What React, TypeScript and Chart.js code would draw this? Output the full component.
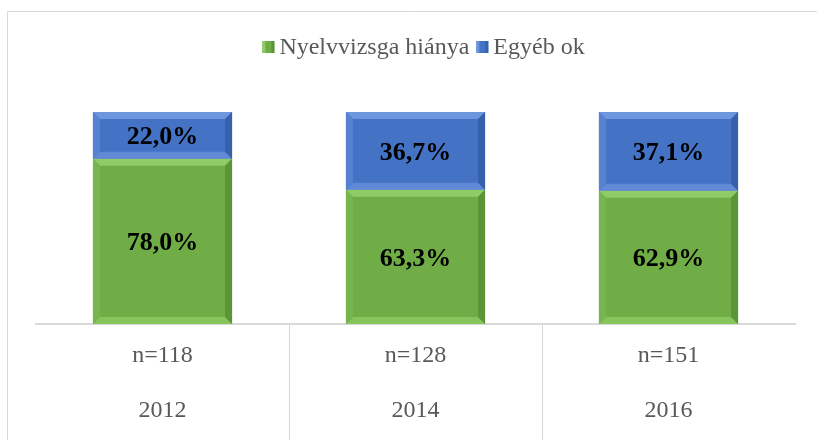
import React, { useEffect, useRef } from "react";
import { Chart, registerables } from "chart.js";

Chart.register(...registerables);

const years = ["2012", "2014", "2016"];
const sampleSizes = ["n=118", "n=128", "n=151"];
const nyelvvizsga = [78.0, 63.3, 62.9];
const egyeb = [22.0, 36.7, 37.1];
const seriesNames = ["Nyelvvizsga hiánya", "Egyéb ok"];

const GREEN = { main: "#70AD47", top: "#8FCC66", bottom: "#86C45C", left: "#78B54F", right: "#5C9438" };
const BLUE = { main: "#4472C4", top: "#6E96DE", bottom: "#6189D6", left: "#5682D2", right: "#3760AC" };

const FONT = "'Liberation Serif', 'Times New Roman', serif";

const bevelPlugin = {
  id: "bevel",
  afterDatasetsDraw(chart: any) {
    const ctx = chart.ctx;
    chart.data.datasets.forEach((ds: any, di: number) => {
      const pal = di === 0 ? GREEN : BLUE;
      const meta = chart.getDatasetMeta(di);
      meta.data.forEach((el: any) => {
        const p = el.getProps(["x", "y", "base", "width"], true);
        const l = p.x - p.width / 2;
        const r = p.x + p.width / 2;
        const t = Math.min(p.y, p.base);
        const b = Math.max(p.y, p.base);
        const s = Math.min(7, (b - t) / 2);
        ctx.save();
        const poly = (pts: number[][], c: string) => {
          ctx.beginPath();
          ctx.moveTo(pts[0][0], pts[0][1]);
          for (let i = 1; i < pts.length; i++) ctx.lineTo(pts[i][0], pts[i][1]);
          ctx.closePath();
          ctx.fillStyle = c;
          ctx.fill();
        };
        poly([[l, t], [r, t], [r - s, t + s], [l + s, t + s]], pal.top);
        poly([[l, b], [r, b], [r - s, b - s], [l + s, b - s]], pal.bottom);
        poly([[l, t], [l + s, t + s], [l + s, b - s], [l, b]], pal.left);
        poly([[r, t], [r - s, t + s], [r - s, b - s], [r, b]], pal.right);
        ctx.restore();
      });
    });
  },
};

const labelPlugin = {
  id: "valueLabels",
  afterDatasetsDraw(chart: any) {
    const ctx = chart.ctx;
    ctx.save();
    ctx.font = `bold 26px ${FONT}`;
    ctx.fillStyle = "#000000";
    ctx.textAlign = "center";
    ctx.textBaseline = "middle";
    chart.data.datasets.forEach((ds: any, di: number) => {
      const meta = chart.getDatasetMeta(di);
      meta.data.forEach((el: any, i: number) => {
        const c = el.getCenterPoint();
        const v = ds.data[i];
        ctx.fillText(v.toFixed(1).replace(".", ",") + "%", c.x, c.y + 2);
      });
    });
    ctx.restore();
  },
};

const legendPlugin = {
  id: "customLegend",
  afterDraw(chart: any) {
    const ctx = chart.ctx;
    ctx.save();
    ctx.font = `24px ${FONT}`;
    const box = 12;
    const gapBox = 5;
    const gapItem = 7;
    const widths = seriesNames.map((n) => ctx.measureText(n).width);
    const total = widths.reduce((a, w) => a + box + gapBox + w, 0) + gapItem * (seriesNames.length - 1);
    const ca = chart.chartArea;
    let x = (ca.left + ca.right) / 2 + 8 - total / 2;
    const yc = 47;
    seriesNames.forEach((n, i) => {
      const pal = i === 0 ? GREEN : BLUE;
      ctx.fillStyle = pal.main;
      ctx.fillRect(x, yc - box / 2, box, box);
      ctx.fillStyle = pal.right;
      ctx.fillRect(x + box - 3, yc - box / 2, 3, box);
      ctx.fillStyle = pal.top;
      ctx.fillRect(x, yc - box / 2, 3, box);
      x += box + gapBox;
      ctx.fillStyle = "#595959";
      ctx.textAlign = "left";
      ctx.textBaseline = "middle";
      ctx.fillText(n, x, yc + 1);
      x += widths[i] + gapItem;
    });
    ctx.restore();
  },
};

const framePlugin = {
  id: "frame",
  beforeDraw(chart: any) {
    const ctx = chart.ctx;
    ctx.save();
    ctx.fillStyle = "#ffffff";
    ctx.fillRect(0, 0, chart.width, chart.height);
    ctx.strokeStyle = "#D9D9D9";
    ctx.lineWidth = 1;
    ctx.beginPath();
    ctx.moveTo(7.5, chart.height);
    ctx.lineTo(7.5, 11.5);
    ctx.lineTo(chart.width, 11.5);
    ctx.stroke();
    ctx.restore();
  },
  afterDraw(chart: any) {
    const ctx = chart.ctx;
    const xs = chart.scales.x;
    ctx.save();
    ctx.strokeStyle = "#D9D9D9";
    ctx.lineWidth = 1;
    for (let i = 1; i < years.length; i++) {
      const x = Math.round((xs.getPixelForValue(i - 1) + xs.getPixelForValue(i)) / 2) + 0.5;
      ctx.beginPath();
      ctx.moveTo(x, xs.top);
      ctx.lineTo(x, chart.height);
      ctx.stroke();
    }
    ctx.restore();
  },
};

export default function App() {
  const ref = useRef<HTMLCanvasElement>(null);
  useEffect(() => {
    if (!ref.current) return;
    const chart = new Chart(ref.current, {
      type: "bar",
      data: {
        labels: years.map((y, i) => [sampleSizes[i], y]),
        datasets: [
          { label: seriesNames[0], data: nyelvvizsga, backgroundColor: GREEN.main, borderWidth: 0 },
          { label: seriesNames[1], data: egyeb, backgroundColor: BLUE.main, borderWidth: 0 },
        ],
      },
      options: {
        animation: false,
        responsive: false,
        maintainAspectRatio: false,
        layout: { padding: { left: 36, right: 22, top: 112, bottom: 0 } },
        datasets: { bar: { barPercentage: 1, categoryPercentage: 0.55 } },
        plugins: {
          legend: { display: false },
          tooltip: { enabled: false },
        },
        scales: {
          x: {
            stacked: true,
            grid: { display: false, drawTicks: false },
            border: { display: true, color: "#D9D9D9", width: 2 },
            ticks: {
              color: "#595959",
              font: { family: FONT, size: 24, lineHeight: 2.3 },
              padding: 4,
              maxRotation: 0,
            },
            afterFit(scale: any) {
              scale.height = 116;
            },
          },
          y: {
            stacked: true,
            display: false,
            min: 0,
            max: 100,
          },
        },
      },
      plugins: [framePlugin, bevelPlugin, labelPlugin, legendPlugin],
    } as any);
    return () => chart.destroy();
  }, []);
  return (
    <div style={{ position: "absolute", left: 0, top: 0, width: 817, height: 440 }}>
      <canvas ref={ref} width={817} height={440} style={{ width: 817, height: 440 }} />
    </div>
  );
}
